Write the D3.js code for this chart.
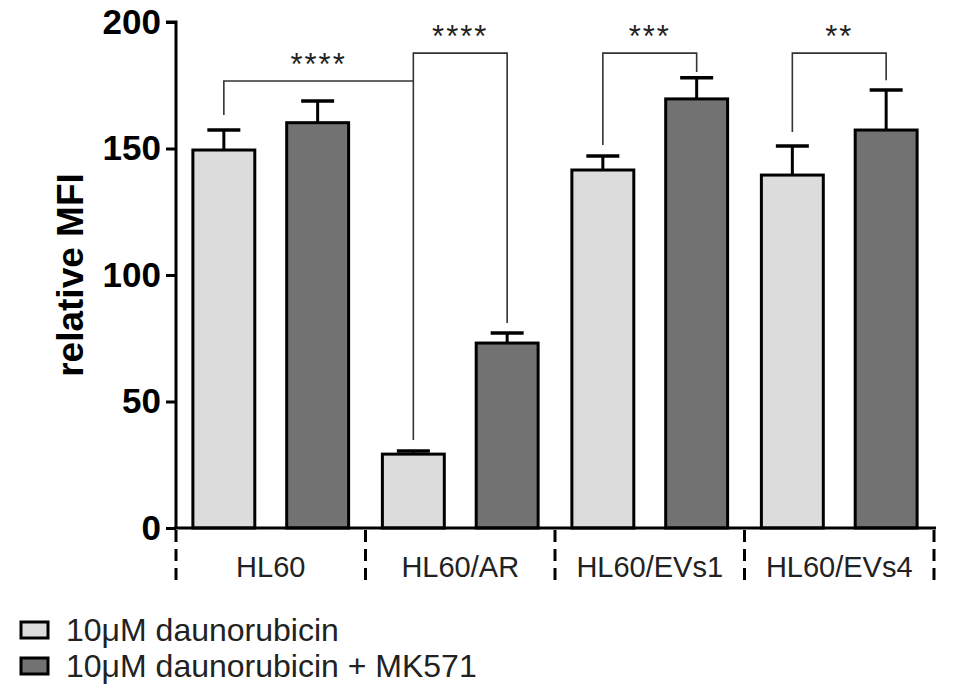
<!DOCTYPE html>
<html>
<head>
<meta charset="utf-8">
<script src="https://cdn.jsdelivr.net/npm/d3@7"></script>
<style>
  html, body { margin: 0; padding: 0; background: #fff; }
  svg { display: block; font-family: "Liberation Sans", Arial, Helvetica, sans-serif; }
</style>
</head>
<body>
<svg id="chart" width="953" height="690"></svg>
<script>
// Cell lines and treatments
const groups = ["HL60", "HL60/AR", "HL60/EVs1", "HL60/EVs4"];
const treatments = ["10μM daunorubicin", "10μM daunorubicin + MK571"];

// Mean relative MFI and upper error (SD) per cell line
const meanDauno = [149.4, 29.2, 141.5, 139.5];
const errDauno  = [7.9, 1.2, 5.5, 11.5];
const meanMK    = [160.2, 73.1, 169.6, 157.3];
const errMK     = [8.6, 4.0, 8.4, 15.8];

const yTicks = [0, 50, 100, 150, 200];

// Significance brackets: [group, treatment] endpoints, bracket level, end heights, label
const bracketFrom  = [[0, 0], [1, 0], [2, 0], [3, 0]];
const bracketTo    = [[1, 0], [1, 1], [2, 1], [3, 1]];
const bracketLevel = [176.7, 187.7, 187.7, 187.7];
const bracketLeftEnd  = [163.2, 34.8, 151.4, 156.5];
const bracketRightEnd = [176.7, 81.0, 180.2, 177.0];
const bracketLabels = ["****", "****", "***", "**"];

const series = [meanDauno, meanMK];
const errors = [errDauno, errMK];
const fills = ["#dcdcdc", "#727272"];

const svg = d3.select("#chart");

const x0 = d3.scaleBand().domain(groups).range([176, 934]).paddingInner(0).paddingOuter(0);
const x1 = d3.scaleBand().domain([0, 1]).range([0, x0.bandwidth()]).paddingInner(0.34).paddingOuter(0.18);
const y = d3.scaleLinear().domain([0, 200]).range([528, 22]);

const cx = (g, t) => x0(groups[g]) + x1(t) + x1.bandwidth() / 2;

// Bars
const barData = [];
groups.forEach((g, gi) => {
  [0, 1].forEach(t => barData.push({ gi, t, v: series[t][gi], e: errors[t][gi] }));
});

// Error bars (upper only), drawn behind the bars
const eb = svg.append("g");
barData.forEach(d => {
  const c = cx(d.gi, d.t);
  eb.append("line").attr("x1", c).attr("x2", c).attr("y1", y(d.v)).attr("y2", y(d.v + d.e))
    .attr("stroke", "#000").attr("stroke-width", 3);
  eb.append("line").attr("x1", c - 16.5).attr("x2", c + 16.5).attr("y1", y(d.v + d.e)).attr("y2", y(d.v + d.e))
    .attr("stroke", "#000").attr("stroke-width", 3.5);
});

svg.append("g").selectAll("rect").data(barData).join("rect")
  .attr("x", d => x0(groups[d.gi]) + x1(d.t))
  .attr("width", x1.bandwidth())
  .attr("y", d => y(d.v))
  .attr("height", d => y(0) - y(d.v))
  .attr("fill", d => fills[d.t])
  .attr("stroke", "#000")
  .attr("stroke-width", 3);

// Y axis
const yAxis = svg.append("g").attr("transform", "translate(176,0)")
  .call(d3.axisLeft(y).tickValues(yTicks).tickSize(10).tickPadding(5).tickFormat(d3.format("d")));
yAxis.select(".domain").attr("stroke", "#000").attr("stroke-width", 3).attr("d", `M-10,${y(200)}H0V${y(0)}`);
yAxis.selectAll(".tick line").attr("stroke", "#000").attr("stroke-width", 3);
yAxis.selectAll(".tick text").attr("font-size", 35).attr("font-weight", "bold").attr("fill", "#000")
  .attr("font-family", "'Liberation Sans', Arial, sans-serif");

svg.append("text")
  .attr("transform", `translate(83,${(y(0) + y(200)) / 2}) rotate(-90)`)
  .attr("text-anchor", "middle")
  .attr("font-size", 37).attr("font-weight", "bold").attr("fill", "#000")
  .text("relative MFI");

// X axis line and dashed group separators
svg.append("line").attr("x1", 174).attr("x2", 936).attr("y1", y(0)).attr("y2", y(0))
  .attr("stroke", "#000").attr("stroke-width", 3);
const seps = groups.map(g => x0(g)).concat([x0(groups[groups.length - 1]) + x0.bandwidth()]);
svg.append("g").selectAll("line").data(seps).join("line")
  .attr("x1", d => d).attr("x2", d => d)
  .attr("y1", y(0) + 2).attr("y2", 582)
  .attr("stroke", "#000").attr("stroke-width", 3)
  .attr("stroke-dasharray", "12,7");

svg.append("g").selectAll("text").data(groups).join("text")
  .attr("x", d => x0(d) + x0.bandwidth() / 2)
  .attr("y", 577)
  .attr("text-anchor", "middle")
  .attr("font-size", 29).attr("fill", "#222")
  .text(d => d);

// Significance brackets
const br = svg.append("g");
bracketLabels.forEach((lab, i) => {
  const xa = cx(bracketFrom[i][0], bracketFrom[i][1]);
  const xb = cx(bracketTo[i][0], bracketTo[i][1]);
  const yl = y(bracketLevel[i]);
  br.append("path")
    .attr("d", `M${xa},${y(bracketLeftEnd[i])}V${yl}H${xb}V${y(bracketRightEnd[i])}`)
    .attr("fill", "none").attr("stroke", "#333").attr("stroke-width", 1.6);
  br.append("text")
    .attr("x", (xa + xb) / 2)
    .attr("y", yl - 6)
    .attr("text-anchor", "middle")
    .attr("font-size", 31).attr("fill", "#222")
    .attr("letter-spacing", 2)
    .text(lab);
});

// Legend
const lg = svg.append("g");
treatments.forEach((t, i) => {
  lg.append("rect").attr("x", 21).attr("y", 622 + i * 36).attr("width", 27).attr("height", 16)
    .attr("fill", fills[i]).attr("stroke", "#000").attr("stroke-width", 3);
  lg.append("text").attr("x", 66).attr("y", 641 + i * 36)
    .attr("font-size", 32).attr("fill", "#222").text(t);
});
</script>
</body>
</html>
